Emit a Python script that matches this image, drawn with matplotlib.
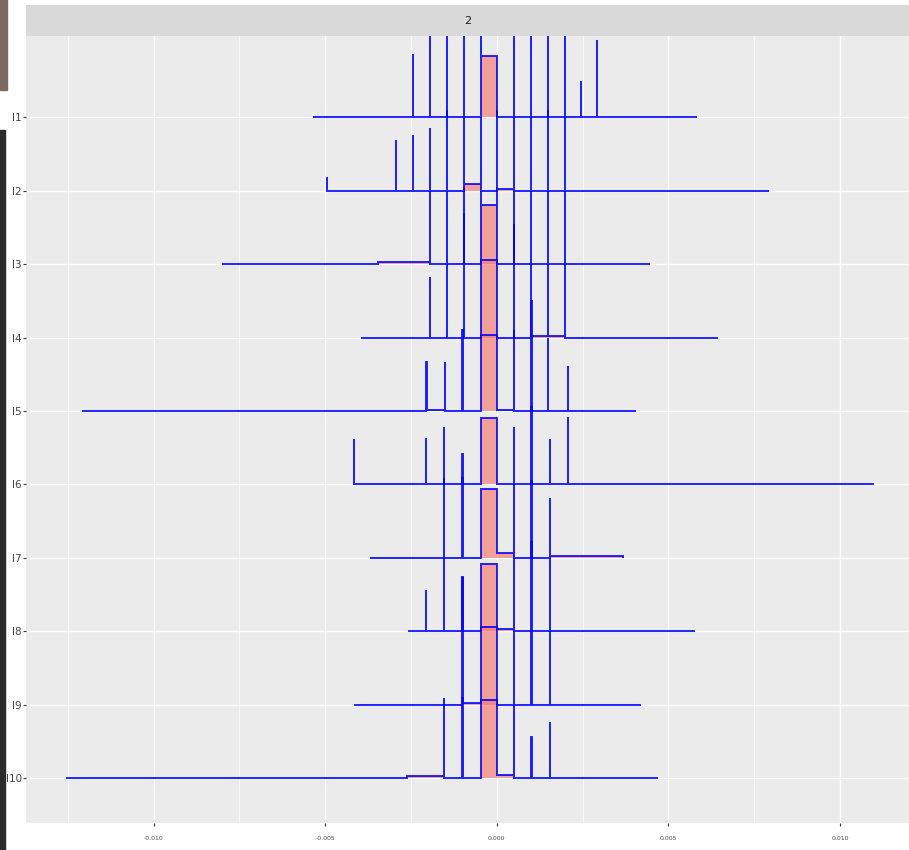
import matplotlib
matplotlib.use("Agg")
import matplotlib.pyplot as plt
import numpy as np
from matplotlib import font_manager
from matplotlib.patches import Rectangle

# ---- data (x in data units, heights in ridge-row units)
rows = ["I1", "I2", "I3", "I4", "I5", "I6", "I7", "I8", "I9", "I10"]
lo = [-0.00536, -0.00496, -0.00801, -0.00396, -0.01208, -0.00416, -0.00369, -0.00259, -0.00416, -0.01255]
hi = [0.00583, 0.00793, 0.00446, 0.00644, 0.00406, 0.01100, 0.00368, 0.00578, 0.00420, 0.00469]
center_bin = [-0.00047, 0.0]
rect_h = [0.835, 0.0, 0.805, 1.056, 1.03, 0.91, 0.93, 0.92, 1.06, 1.06]

spike_x = [
    [-0.00245, -0.00196, -0.00146, -0.00097, -0.00047, 0.0005, 0.00100, 0.00148, 0.00198, 0.00245, 0.00293],
    [-0.00496, -0.00295, -0.00245, -0.00196, -0.00146, -0.00097, -0.00047, 0.0, 0.0005, 0.00100, 0.00148, 0.00198],
    [-0.00196, -0.00146, -0.00097, -0.00047, 0.0, 0.0005, 0.00100, 0.00148, 0.00198],
    [-0.00196, -0.00146, -0.00097, 0.0005, 0.00100, 0.00148, 0.00198],
    [-0.00205, -0.00151, -0.00100, 0.0005, 0.00101, 0.00148, 0.00207],
    [-0.00416, -0.00206, -0.00154, -0.00100, 0.0005, 0.00101, 0.00155, 0.00207],
    [-0.00154, -0.00100, 0.0005, 0.00101, 0.00155],
    [-0.00206, -0.00154, -0.00100, 0.0005, 0.00101, 0.00155],
    [-0.00100, 0.0005, 0.00101, 0.00155],
    [-0.00154, -0.00100, 0.0005, 0.00101, 0.00155],
]
spike_h = [
    [0.86, 1.5, 1.5, 1.5, 1.5, 1.5, 1.5, 1.5, 1.5, 0.50, 1.05],
    [0.19, 0.69, 0.76, 0.85, 1.1, 1.0, 1.0, 1.1, 1.0, 1.0, 1.1, 1.0],
    [1.0, 1.0, 1.05, 1.0, 1.05, 1.0, 1.0, 1.0, 1.0],
    [0.82, 1.0, 1.7, 1.55, 1.0, 1.0, 1.0],
    [0.67, 0.67, 1.1, 1.1, 1.5, 1.0, 0.61],
    [0.62, 0.63, 0.78, 0.42, 0.78, 1.05, 0.62, 0.92],
    [1.08, 1.08, 1.0, 1.05, 0.81],
    [0.56, 1.0, 0.74, 1.0, 1.22, 1.0],
    [1.72, 1.0, 1.0, 1.0],
    [1.09, 1.09, 1.0, 0.56, 0.76],
]
# small raised bins (start, end, height)
step_bins = [
    [],
    [(-0.00097, -0.00047, 0.09), (0.0, 0.0005, 0.03)],
    [(-0.00346, -0.00196, 0.03)],
    [(0.00100, 0.00198, 0.02)],
    [(-0.00205, -0.00151, 0.015), (0.0, 0.0005, 0.015)],
    [],
    [(0.0, 0.0005, 0.065), (0.00155, 0.00368, 0.02)],
    [(0.0, 0.0005, 0.03)],
    [(-0.00100, -0.00047, 0.025)],
    [(-0.00263, -0.00154, 0.03), (0.0, 0.0005, 0.04)],
]

x_ticks = [-0.010, -0.005, 0.000, 0.005, 0.010]
x_labels = ["-0.010", "-0.005", "0.000", "0.005", "0.010"]
x_minor = [-0.0125, -0.0075, -0.0025, 0.0025, 0.0075]
strip_label = "2"

names = {f.name for f in font_manager.fontManager.ttflist}
narrow = "Liberation Sans Narrow" if "Liberation Sans Narrow" in names else "DejaVu Sans"

W, H = 909, 850
fig = plt.figure(figsize=(W / 100, H / 100), dpi=100)
ax = fig.add_axes([26 / W, 27 / H, 883 / W, 787 / H])
ax.set_facecolor("#EBEBEB")
ax.set_xlim(-0.01372, 0.01201)
ax.set_ylim(-0.614, 10.108)

ypos = [len(rows) - 1 - i for i in range(len(rows))]
ax.set_xticks(x_ticks)
ax.set_xticklabels(x_labels, fontsize=4.5, family=narrow, color="#4D4D4D")
ax.set_xticks(x_minor, minor=True)
ax.set_yticks(ypos)
ax.set_yticklabels(rows, fontsize=7.5, family=narrow, color="#444444")
ax.tick_params(which="major", length=2.5, width=0.8, color="#333333", pad=0.5)
ax.tick_params(axis="x", pad=7)
ax.tick_params(which="minor", length=0)
ax.grid(which="major", color="white", lw=1.0)
ax.grid(which="minor", color="white", lw=0.5)
ax.set_axisbelow(True)
for s in ax.spines.values():
    s.set_visible(False)

w = 1e-6
for i in range(len(rows)):
    cuts = [lo[i], hi[i]] + center_bin
    for x0, x1, h in step_bins[i]:
        cuts += [x0, x1]
    for x in spike_x[i]:
        cuts += [x - w, x + w]
    e = np.unique(np.clip(cuts, lo[i], hi[i]))
    mid = (e[:-1] + e[1:]) / 2
    v = np.zeros(len(mid))
    for x0, x1, h in step_bins[i]:
        v = np.where((mid > x0) & (mid < x1), np.maximum(v, h), v)
    if rect_h[i] > 0:
        v = np.where((mid > center_bin[0]) & (mid < center_bin[1]), np.maximum(v, rect_h[i]), v)
    for x, h in zip(spike_x[i], spike_h[i]):
        v = np.where(np.abs(mid - x) < w, np.maximum(v, h), v)
    base = ypos[i]
    ax.stairs(v + base, e, baseline=base, fill=True, color="#F8766D", alpha=0.65,
              lw=0, zorder=3 + 2 * i)
    ax.stairs(v + base, e, baseline=base, fill=False, color="#0000FF", alpha=0.85,
              lw=1.4, zorder=4 + 2 * i)

# facet strip
sax = fig.add_axes([26 / W, 814 / H, 883 / W, 31 / H])
sax.set_facecolor("#D9D9D9")
sax.set_xticks([])
sax.set_yticks([])
for s in sax.spines.values():
    s.set_visible(False)
sax.text(0.5, 0.5, strip_label, ha="center", va="center", fontsize=8,
         color="#1A1A1A", family=narrow, transform=sax.transAxes)

# screenshot edge at the left
fig.patches.append(Rectangle((0, 0), 5 / W, 720 / H, transform=fig.transFigure,
                             color="#2B2B2B", zorder=0))
fig.patches.append(Rectangle((0, 1 - 90 / H), 7 / W, 90 / H, transform=fig.transFigure,
                             color="#7A6A60", zorder=0))

fig.savefig("out.png", dpi=100)
